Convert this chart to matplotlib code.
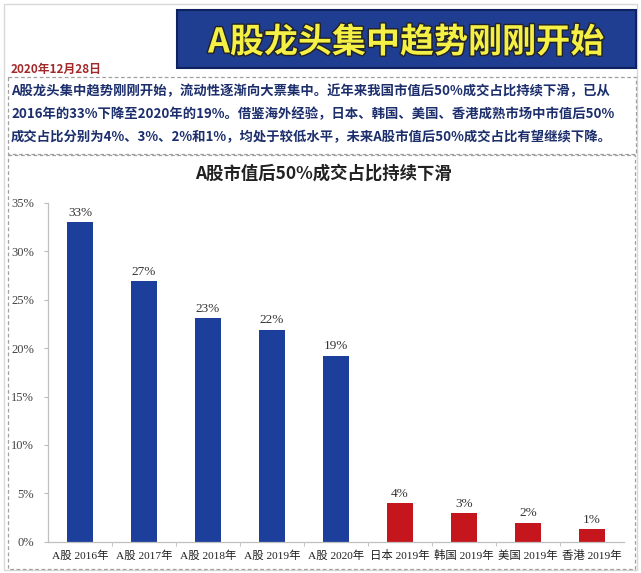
import matplotlib
matplotlib.use('Agg')
import matplotlib.pyplot as plt
import matplotlib.patheffects as pe
from matplotlib.patches import Rectangle

plt.rcParams['font.family'] = ['Noto Sans CJK SC', 'DejaVu Sans']

# data
categories = ['A股 2016年', 'A股 2017年', 'A股 2018年', 'A股 2019年', 'A股 2020年',
              '日本 2019年', '韩国 2019年', '美国 2019年', '香港 2019年']
values = [33.0, 26.9, 23.1, 21.9, 19.2, 4.0, 2.95, 1.95, 1.3]
value_labels = ['33%', '27%', '23%', '22%', '19%', '4%', '3%', '2%', '1%']
is_domestic = [True] * 5 + [False] * 4
y_ticks = [0, 5, 10, 15, 20, 25, 30, 35]

headline = 'A股龙头集中趋势刚刚开始'
date_text = '2020年12月28日'
paragraph = ['A股龙头集中趋势刚刚开始，流动性逐渐向大票集中。近年来我国市值后50%成交占比持续下滑，已从',
             '2016年的33%下降至2020年的19%。借鉴海外经验，日本、韩国、美国、香港成熟市场中市值后50%',
             '成交占比分别为4%、3%、2%和1%，均处于较低水平，未来A股市值后50%成交占比有望继续下降。']
chart_title = 'A股市值后50%成交占比持续下滑'

W, H = 641, 573
fig = plt.figure(figsize=(W / 100, H / 100), dpi=100)
fig.patch.set_facecolor('white')

# background layer in pixel coordinates
bg = fig.add_axes([0, 0, 1, 1])
bg.set_xlim(0, W)
bg.set_ylim(H, 0)
bg.axis('off')

# outer faint frame
bg.add_patch(Rectangle((4, 4), 633, 566, fill=False, ec='#d8d8d8', lw=1.0))
# headline box
bg.add_patch(Rectangle((177, 10), 459, 58, fc='#1f3d91', ec='#0f2260', lw=1.5))
bg.text(406, 42, headline, color='#f4f046', fontsize=24.5, fontweight='bold',
        ha='center', va='center',
        path_effects=[pe.withStroke(linewidth=2, foreground='#222222')])
bg.text(11, 69, date_text, color='#a3282a', fontsize=8.5, fontweight='bold',
        ha='left', va='center')

# paragraph box
bg.add_patch(Rectangle((8, 77), 628, 77, fill=False, ec='#a0a0a0', lw=0.9, ls=(0, (3, 2))))
for i, line in enumerate(paragraph):
    bg.text(11, 91 + i * 23, line, color='#1c2f6c', fontsize=9.6, fontweight='semibold',
            ha='left', va='center')

# chart box
bg.add_patch(Rectangle((8, 155), 627, 414, fill=False, ec='#a0a0a0', lw=0.9, ls=(0, (3, 2))))
bg.text(323, 174, chart_title, color='#222222', fontsize=12.5, fontweight='bold',
        ha='center', va='center')

# bar chart
ax = fig.add_axes([48 / W, (H - 541.7) / H, 576 / W, (541.7 - 203) / H])
ax.patch.set_alpha(0)
xs = list(range(len(categories)))
colors = ['#1c3f9c' if d else '#c4161c' for d in is_domestic]
ax.bar(xs, values, width=0.41, color=colors, zorder=2)

serif = ['Liberation Serif', 'Noto Sans CJK SC']
for x, v, lab in zip(xs, values, value_labels):
    ax.annotate(lab, (x, v), xytext=(0, 2.5), textcoords='offset points',
                ha='center', va='bottom', fontsize=9.5, color='#333333', family=serif)

ax.set_xlim(-0.5, len(categories) - 0.5)
ax.set_ylim(0, 35)
ax.set_yticks(y_ticks)
ax.set_yticklabels([f'{t}%' for t in y_ticks], family=serif, fontsize=9, color='#444444')
ax.set_xticks(xs)
ax.set_xticklabels(categories, family=serif, fontsize=8.2, color='#222222')
ax.set_xticks([x + 0.5 for x in xs[:-1]], minor=True)
ax.tick_params(axis='x', which='major', length=0, pad=6)
ax.tick_params(axis='x', which='minor', length=3, color='#bbbbbb')
ax.tick_params(axis='y', length=3, color='#bbbbbb', pad=7)
for s in ['top', 'right']:
    ax.spines[s].set_visible(False)
for s in ['left', 'bottom']:
    ax.spines[s].set_color('#c0c0c0')
    ax.spines[s].set_linewidth(0.9)

fig.savefig('out.png', dpi=100)
